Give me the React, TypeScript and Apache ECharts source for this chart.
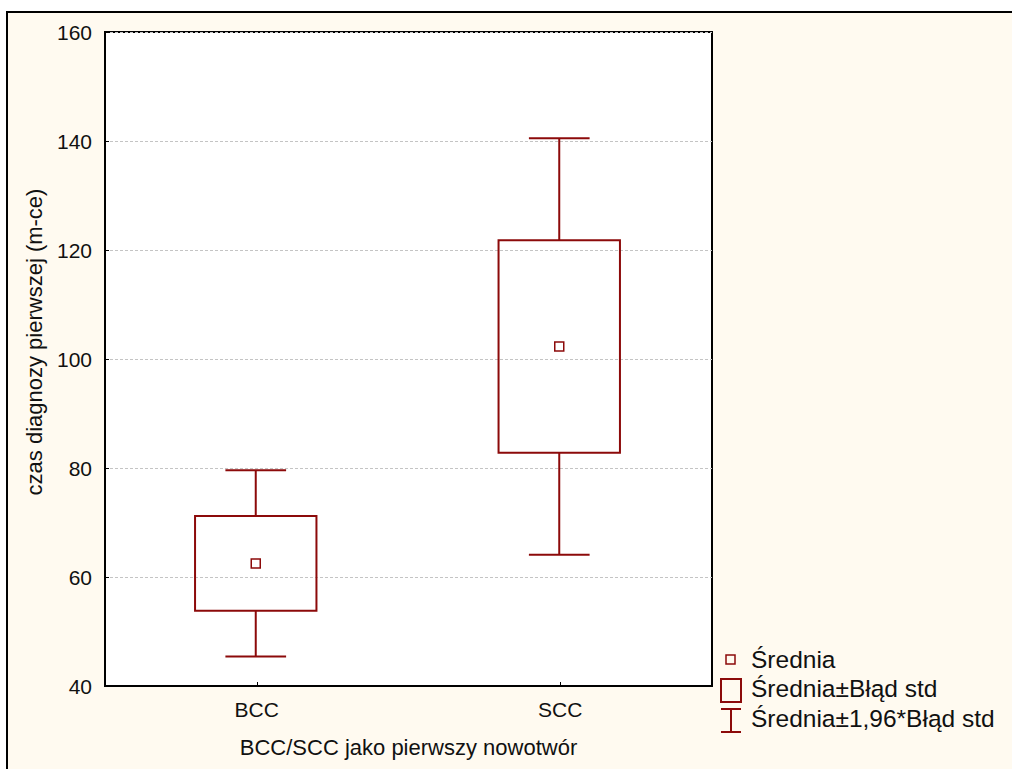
import React, { useEffect, useRef } from "react";
import * as echarts from "echarts";

// Group labels and the statistics for each group (months)
const categories = ["BCC", "SCC"];
const means = [62.5, 102.3];
const seLow = [53.8, 82.8];
const seHigh = [71.2, 121.8];
const ciLow = [45.4, 64.1];
const ciHigh = [79.6, 140.5];

// Y-axis scale
const yMin = 40;
const yMax = 160;
const yStep = 20;

const legendLabels = ["Średnia", "Średnia±Błąd std", "Średnia±1,96*Błąd std"];

const RED = "#8c0a0a";
const FONT = "'Liberation Sans', Arial, sans-serif";

export default function App() {
  const ref = useRef<HTMLDivElement>(null);

  useEffect(() => {
    if (!ref.current) return;
    const chart = echarts.init(ref.current, undefined, { renderer: "svg" });

    const data = categories.map((_, i) => [i, ciLow[i], seLow[i], means[i], seHigh[i], ciHigh[i]]);

    const renderItem = (params: any, api: any) => {
      const idx = api.value(0);
      const band = api.size([1, 0])[0];
      const pLo = api.coord([idx, api.value(1)]);
      const pBoxLo = api.coord([idx, api.value(2)]);
      const pMean = api.coord([idx, api.value(3)]);
      const pBoxHi = api.coord([idx, api.value(4)]);
      const pHi = api.coord([idx, api.value(5)]);
      const cx = pMean[0] - 1;
      const boxW = band * 0.4;
      const capW = band * 0.2;
      const lineStyle = { stroke: RED, lineWidth: 2, fill: "none" };
      return {
        type: "group",
        children: [
          { type: "line", shape: { x1: cx, y1: pHi[1], x2: cx, y2: pBoxHi[1] }, style: lineStyle },
          { type: "line", shape: { x1: cx, y1: pBoxLo[1], x2: cx, y2: pLo[1] }, style: lineStyle },
          { type: "line", shape: { x1: cx - capW / 2, y1: pHi[1], x2: cx + capW / 2, y2: pHi[1] }, style: lineStyle },
          { type: "line", shape: { x1: cx - capW / 2, y1: pLo[1], x2: cx + capW / 2, y2: pLo[1] }, style: lineStyle },
          {
            type: "rect",
            shape: { x: cx - boxW / 2, y: pBoxHi[1], width: boxW, height: pBoxLo[1] - pBoxHi[1] },
            style: { stroke: RED, lineWidth: 2, fill: "none" },
          },
          {
            type: "rect",
            shape: { x: cx - 4.5, y: pMean[1] - 4.5, width: 9, height: 9 },
            style: { stroke: RED, lineWidth: 1.5, fill: "#fff" },
          },
        ],
      };
    };

    const legendText = (text: string, y: number) => ({
      type: "text",
      left: 751,
      top: y - 14,
      style: { text, font: `24.5px ${FONT}`, fill: "#111" },
    });

    chart.setOption({
      animation: false,
      backgroundColor: "#ffffff",
      graphic: [
        {
          type: "rect",
          z: -10,
          shape: { x: 7, y: 12, width: 1020, height: 770 },
          style: { fill: "#fffaf0", stroke: "#000", lineWidth: 2 },
        },
        {
          type: "rect",
          shape: { x: 726, y: 655, width: 9, height: 9 },
          style: { stroke: RED, lineWidth: 1.5, fill: "none" },
        },
        {
          type: "rect",
          shape: { x: 721, y: 679, width: 20, height: 23 },
          style: { stroke: RED, lineWidth: 2, fill: "none" },
        },
        {
          type: "polyline",
          shape: { points: [[721, 709], [741, 709]] },
          style: { stroke: RED, lineWidth: 2, fill: "none" },
        },
        {
          type: "polyline",
          shape: { points: [[731, 709], [731, 732]] },
          style: { stroke: RED, lineWidth: 2, fill: "none" },
        },
        {
          type: "polyline",
          shape: { points: [[721, 732], [741, 732]] },
          style: { stroke: RED, lineWidth: 2, fill: "none" },
        },
        legendText(legendLabels[0], 661),
        legendText(legendLabels[1], 690),
        legendText(legendLabels[2], 720),
      ],
      grid: {
        left: 105,
        top: 32,
        right: 300,
        bottom: 83,
        show: true,
        backgroundColor: "#ffffff",
        borderColor: "#000",
        borderWidth: 2,
      },
      xAxis: {
        type: "category",
        data: categories,
        boundaryGap: true,
        name: "BCC/SCC jako pierwszy nowotwór",
        nameLocation: "middle",
        nameGap: 50,
        nameTextStyle: { fontFamily: FONT, fontSize: 22, color: "#111" },
        axisLine: { show: true, lineStyle: { color: "#000", width: 2 } },
        axisTick: { show: true, inside: true, length: 4, alignWithLabel: true, lineStyle: { color: "#000" } },
        axisLabel: { fontFamily: FONT, fontSize: 21, color: "#111", margin: 13 },
        splitLine: { show: false },
      },
      yAxis: {
        type: "value",
        min: yMin,
        max: yMax,
        interval: yStep,
        name: "czas diagnozy pierwszej (m-ce)",
        nameLocation: "middle",
        nameGap: 60,
        nameRotate: 90,
        nameTextStyle: { fontFamily: FONT, fontSize: 22, color: "#111", padding: [0, 0, 0, 34] },
        axisLine: { show: true, lineStyle: { color: "#000", width: 2 } },
        axisTick: { show: true, inside: true, length: 4, lineStyle: { color: "#000" } },
        axisLabel: { fontFamily: FONT, fontSize: 21, color: "#111", margin: 13 },
        splitLine: { show: true, lineStyle: { color: "#c4c4c4", width: 1, type: [3, 2] } },
      },
      series: [
        {
          type: "custom",
          renderItem,
          data,
          encode: { x: 0, y: [1, 2, 3, 4, 5] },
          clip: false,
        },
      ],
    });

    return () => chart.dispose();
  }, []);

  return (
    <div
      ref={ref}
      style={{ position: "fixed", left: 0, top: 0, width: 1012, height: 769 }}
    />
  );
}
